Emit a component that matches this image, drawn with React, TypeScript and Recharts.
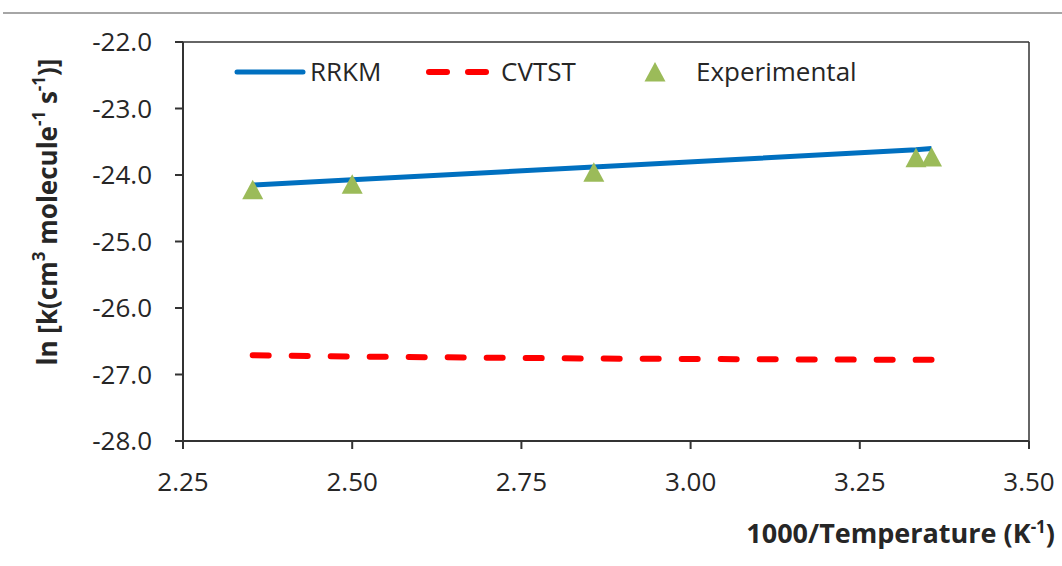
import React from "react";
import {
  ComposedChart,
  Line,
  Scatter,
  XAxis,
  YAxis,
  ReferenceLine,
} from "recharts";

// 1000/T values (K^-1)
const invTemps = [2.353, 2.5, 2.857, 3.333, 3.356];
// ln k values
const rrkm = [-24.15, -24.07, -23.88, -23.62, -23.6];
const cvtst = [-26.71, -26.73, -26.76, -26.78, -26.78];
const experimental = [-24.22, -24.14, -23.96, -23.74, -23.73];

const xTicks = [2.25, 2.5, 2.75, 3.0, 3.25, 3.5];
const yTicks = [-28, -27, -26, -25, -24, -23, -22];

const seriesNames = ["RRKM", "CVTST", "Experimental"];

const data = invTemps.map((x, i) => ({
  x,
  rrkm: rrkm[i],
  cvtst: cvtst[i],
  exp: experimental[i],
}));

const FONT = "'Open Sans', 'Noto Sans', sans-serif";
const BLUE = "#0070C0";
const RED = "#FF0000";
const GREEN = "#9BBB59";
const AXIS = "#333333";
const TEXT = "#262626";

const Triangle = (props: any) => {
  const { cx, cy } = props;
  if (cx == null || cy == null) return null;
  const pts = `${cx},${cy - 10} ${cx - 10.5},${cy + 9.5} ${cx + 10.5},${cy + 9.5}`;
  return <polygon points={pts} fill={GREEN} stroke="none" />;
};

const LegendOverlay = () => (
  <svg
    width={660}
    height={40}
    style={{ position: "absolute", left: 228, top: 52, display: "block" }}
  >
    <line x1={9} y1={20} x2={75} y2={20} stroke={BLUE} strokeWidth={5} strokeLinecap="round" />
    <text x={82} y={29} fontFamily={FONT} fontSize={26} fill={TEXT}>{seriesNames[0]}</text>
    <line x1={201} y1={20} x2={219} y2={20} stroke={RED} strokeWidth={6} strokeLinecap="round" />
    <line x1={240} y1={20} x2={258} y2={20} stroke={RED} strokeWidth={6} strokeLinecap="round" />
    <text x={273} y={29} fontFamily={FONT} fontSize={26} fill={TEXT}>{seriesNames[1]}</text>
    <polygon points={`427,10 416.5,29.5 437.5,29.5`} fill={GREEN} />
    <text x={468} y={29} fontFamily={FONT} fontSize={26} fill={TEXT}>{seriesNames[2]}</text>
  </svg>
);

const YLabel = () => (
  <text
    x={47}
    y={212}
    transform="rotate(-90, 47, 212)"
    textAnchor="middle"
    dominantBaseline="central"
    fontFamily={FONT}
    fontSize={26}
    fontWeight="bold"
    fill={TEXT}
  >
    ln [k(cm<tspan dy={-9} fontSize={17}>3</tspan>
    <tspan dy={9}> molecule</tspan>
    <tspan dy={-9} fontSize={17}>-1</tspan>
    <tspan dy={9}> s</tspan>
    <tspan dy={-9} fontSize={17}>-1</tspan>
    <tspan dy={9}>)]</tspan>
  </text>
);

const XLabel = () => (
  <text
    x={1055}
    y={543}
    textAnchor="end"
    fontFamily={FONT}
    fontSize={27}
    fontWeight="bold"
    fill={TEXT}
  >
    1000/Temperature (K<tspan dy={-10} fontSize={17}>-1</tspan>
    <tspan dy={10}>)</tspan>
  </text>
);

export default function App() {
  return (
    <div style={{ position: "absolute", left: 0, top: 0, width: 1062, height: 566, background: "#fff" }}>
      <div
        style={{
          position: "absolute",
          left: 3,
          top: 12,
          width: 1059,
          height: 2,
          background: "#a6a6a6",
        }}
      />
      <ComposedChart
        width={1062}
        height={566}
        data={data}
        margin={{ top: 42, right: 33, left: 0, bottom: 0 }}
      >
        <XAxis
          type="number"
          dataKey="x"
          domain={[2.25, 3.5]}
          ticks={xTicks}
          tickFormatter={(v: number) => v.toFixed(2)}
          height={125}
          tickSize={8}
          tickMargin={24}
          stroke={AXIS}
          strokeWidth={2}
          tick={{ fontFamily: FONT, fontSize: 26, fill: TEXT }}
          allowDataOverflow
          label={<XLabel />}
        />
        <YAxis
          type="number"
          domain={[-28, -22]}
          ticks={yTicks}
          tickFormatter={(v: number) => v.toFixed(1)}
          width={183}
          tickSize={8}
          tickMargin={23}
          stroke={AXIS}
          strokeWidth={2}
          tick={{ fontFamily: FONT, fontSize: 26, fill: TEXT }}
          allowDataOverflow
          label={<YLabel />}
        />
        <ReferenceLine y={-22} stroke={AXIS} strokeWidth={1.5} />
        <ReferenceLine x={3.5} stroke={AXIS} strokeWidth={1.5} />
        <Line
          dataKey="rrkm"
          name={seriesNames[0]}
          stroke={BLUE}
          strokeWidth={5}
          dot={false}
          activeDot={false}
          isAnimationActive={false}
          type="linear"
        />
        <Line
          dataKey="cvtst"
          name={seriesNames[1]}
          stroke={RED}
          strokeWidth={6}
          strokeDasharray="16 23"
          strokeLinecap="round"
          dot={false}
          activeDot={false}
          isAnimationActive={false}
          type="linear"
        />
        <Scatter
          dataKey="exp"
          name={seriesNames[2]}
          shape={<Triangle />}
          isAnimationActive={false}
        />
      </ComposedChart>
      <LegendOverlay />
    </div>
  );
}
